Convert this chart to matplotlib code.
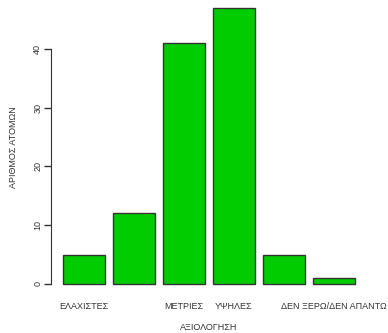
import matplotlib.pyplot as plt
import numpy as np

plt.rcParams['font.family'] = ['Liberation Sans', 'DejaVu Sans']

categories = ['ΕΛΑΧΙΣΤΕΣ', '', 'ΜΕΤΡΙΕΣ', 'ΥΨΗΛΕΣ', '', 'ΔΕΝ ΞΕΡΩ/ΔΕΝ ΑΠΑΝΤΩ']
counts = [5, 12, 41, 47, 5, 1]
yticks = [0, 10, 20, 30, 40]

fig = plt.figure(figsize=(3.88, 3.33), dpi=100)
ax = fig.add_axes([0.132, 0.114, 0.813, 0.886])

# R-style barplot: width 1, space 0.2
x = 0.7 + 1.2 * np.arange(len(counts))
ax.bar(x, counts, width=1.0, color='#00cc00', edgecolor='#333333', linewidth=1.0)

ax.set_xlim(-0.08, 7.48)
ax.set_ylim(-1.88, 48.33)

for s in ['top', 'right', 'bottom']:
    ax.spines[s].set_visible(False)
ax.spines['left'].set_bounds(0, 40)
ax.spines['left'].set_color('#333333')

ax.set_yticks(yticks)
ax.set_yticklabels([str(v) for v in yticks], rotation=90, va='center', fontsize=6.5, color='#333333')
ax.tick_params(axis='y', length=5, width=1, color='#333333', pad=1.5)

ax.set_xticks(x)
ax.set_xticklabels(categories, fontsize=6.5, color='#333333')
ax.tick_params(axis='x', length=0, pad=5)

ax.set_xlabel('ΑΞΙΟΛΟΓΗΣΗ', fontsize=6.5, color='#333333', labelpad=9)
ax.set_ylabel('ΑΡΙΘΜΟΣ ΑΤΟΜΩΝ', fontsize=6.5, color='#333333', labelpad=11)

fig.savefig('out.png', dpi=100)
